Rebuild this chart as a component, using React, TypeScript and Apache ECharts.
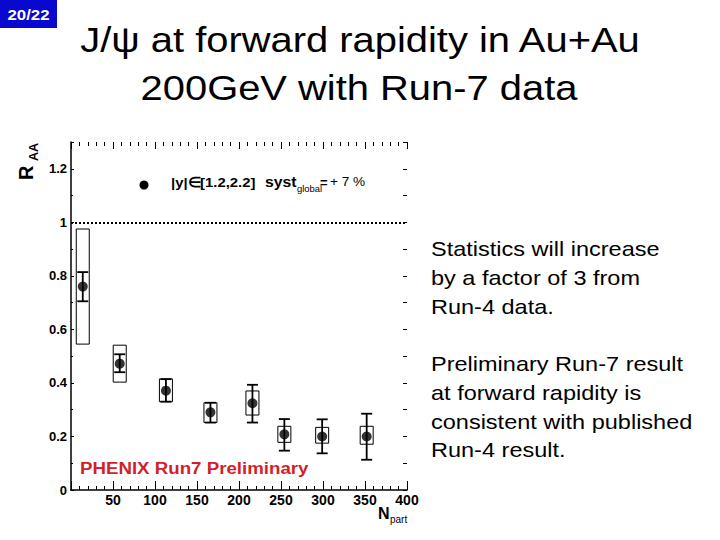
import React, { useEffect, useRef } from "react";
import * as echarts from "echarts";

const FONT = "'Liberation Sans', Arial, Helvetica, sans-serif";

// N_part values and R_AA measurements
const nPart = [14, 58, 113, 166, 216, 254, 299, 352];
const raa = [0.76, 0.472, 0.371, 0.29, 0.324, 0.208, 0.2, 0.2];
const statLow = [0.705, 0.44, 0.33, 0.252, 0.252, 0.147, 0.137, 0.113];
const statHigh = [0.814, 0.507, 0.414, 0.326, 0.393, 0.265, 0.264, 0.285];
const systLow = [0.545, 0.403, 0.33, 0.252, 0.28, 0.178, 0.175, 0.171];
const systHigh = [0.975, 0.541, 0.415, 0.326, 0.37, 0.238, 0.234, 0.238];

const titleLines = ["J/\u03c8 at forward rapidity in Au+Au", "200GeV with Run-7 data"];
const sideText = [
  "Statistics will increase",
  "by a factor of 3 from",
  "Run-4 data.",
  "",
  "Preliminary Run-7 result",
  "at forward rapidity is",
  "consistent with published",
  "Run-4 result.",
];

export default function App() {
  const ref = useRef<HTMLDivElement>(null);
  useEffect(() => {
    if (!ref.current) return;
    const chart = echarts.init(ref.current, undefined, { renderer: "svg" });

    const points = nPart.map((x, i) => [x, raa[i]]);
    const stat = nPart.map((x, i) => [x, statLow[i], statHigh[i]]);
    const syst = nPart.map((x, i) => [x, systLow[i], systHigh[i]]);

    const txt = (
      text: string,
      x: number,
      y: number,
      size: number,
      opts: any = {}
    ) => ({
      type: "text",
      x,
      y,
      scaleX: opts.scaleX ?? 1,
      rotation: opts.rotation ?? 0,
      silent: true,
      style: {
        text,
        fill: opts.fill ?? "#000",
        fontSize: size,
        fontWeight: opts.weight ?? "normal",
        fontFamily: FONT,
        textAlign: opts.align ?? "left",
        align: opts.align ?? "left",
        textVerticalAlign: opts.va ?? "middle",
        verticalAlign: opts.va ?? "middle",
      },
    });

    const sideBaseMid = [249.3, 278.3, 307, 335.5, 364.3, 392.7, 421.7, 450];
    const graphics: any[] = [
      { type: "rect", shape: { x: 0, y: 0, width: 57, height: 28 }, style: { fill: "#0808d0" }, silent: true },
      txt("20/22", 28.5, 14.5, 15, { fill: "#fff", weight: "bold", align: "center", scaleX: 1.12 }),
      txt(titleLines[0], 360, 39.8, 35, { align: "center", scaleX: 1.14 }),
      txt(titleLines[1], 359, 87.8, 35, { align: "center", scaleX: 1.14 }),
      ...sideText
        .map((t, i) => (t ? txt(t, 431, sideBaseMid[i], 21, { scaleX: 1.12 }) : null))
        .filter(Boolean),
      txt("PHENIX Run7 Preliminary", 80, 468, 17, { fill: "#d41f26", weight: "bold", scaleX: 1.1 }),
      // legend
      { type: "circle", shape: { cx: 144, cy: 185, r: 4.5 }, style: { fill: "#000" }, silent: true },
      txt("|y|\u2208[1.2,2.2]", 171, 182.2, 13.5, { weight: "bold", scaleX: 1.1 }),
      txt("syst", 265, 181.5, 15, { weight: "bold", scaleX: 1.05 }),
      txt("global", 297, 189.4, 9, { scaleX: 1.05 }),
      txt("=", 320, 182, 13, { weight: "bold" }),
      txt("+ 7 %", 330, 182, 13, { scaleX: 1.05 }),
      // axis titles
      txt("N", 378, 513.4, 16, { weight: "bold" }),
      txt("part", 390, 519.5, 10),
      txt("R", 36, 180, 20, { weight: "bold", rotation: Math.PI / 2, va: "bottom" }),
      txt("AA", 40, 161, 12.5, { weight: "bold", rotation: Math.PI / 2, va: "bottom" }),
    ];

    const black = { color: "#000" };

    chart.setOption({
      animation: false,
      backgroundColor: "#fff",
      grid: { left: 71, right: 313, top: 142, bottom: 50, containLabel: false },
      xAxis: [
        {
          type: "value",
          min: 0,
          max: 400,
          interval: 50,
          position: "bottom",
          axisLine: { show: true, onZero: false, lineStyle: { color: "#000", width: 1.5 } },
          axisTick: { show: true, inside: true, length: 9, lineStyle: black },
          minorTick: { show: true, splitNumber: 5, length: 4, lineStyle: black },
          axisLabel: {
            showMinLabel: false,
            color: "#000",
            fontWeight: "bold",
            fontSize: 14,
            fontFamily: FONT,
            margin: 3,
          },
          splitLine: { show: false },
        },
        {
          type: "value",
          min: 0,
          max: 400,
          interval: 50,
          position: "top",
          axisLine: { show: false, onZero: false },
          axisTick: { show: true, inside: true, length: 7, lineStyle: black },
          minorTick: { show: true, splitNumber: 5, length: 4, lineStyle: black },
          axisLabel: { show: false },
          splitLine: { show: false },
        },
      ],
      yAxis: [
        {
          type: "value",
          min: 0,
          max: 1.3,
          interval: 0.2,
          position: "left",
          axisLine: { show: true, onZero: false, lineStyle: { color: "#000", width: 1.5 } },
          axisTick: { show: true, inside: true, length: 3, lineStyle: black },
          minorTick: { show: true, splitNumber: 2, length: 2, lineStyle: black },
          axisLabel: {
            showMaxLabel: false,
            color: "#000",
            fontWeight: "bold",
            fontSize: 13,
            fontFamily: FONT,
            margin: 4,
          },
          splitLine: { show: false },
        },
        {
          type: "value",
          min: 0,
          max: 1.3,
          interval: 0.2,
          position: "right",
          axisLine: { show: false, onZero: false },
          axisTick: { show: true, inside: true, length: 4, lineStyle: black },
          minorTick: { show: true, splitNumber: 2, length: 4, lineStyle: black },
          axisLabel: { show: false },
          splitLine: { show: false },
        },
      ],
      series: [
        {
          type: "custom",
          xAxisIndex: 0,
          yAxisIndex: 0,
          data: syst,
          encode: { x: 0, y: [1, 2] },
          renderItem: (params: any, api: any) => {
            const x = api.value(0);
            const lo = api.coord([x, api.value(1)]);
            const hi = api.coord([x, api.value(2)]);
            return {
              type: "rect",
              shape: { x: lo[0] - 6.5, y: hi[1], width: 13, height: lo[1] - hi[1] },
              style: { fill: "none", stroke: "#000", lineWidth: 1 },
            };
          },
          silent: true,
        },
        {
          type: "custom",
          xAxisIndex: 0,
          yAxisIndex: 0,
          data: stat,
          encode: { x: 0, y: [1, 2] },
          renderItem: (params: any, api: any) => {
            const x = api.value(0);
            const lo = api.coord([x, api.value(1)]);
            const hi = api.coord([x, api.value(2)]);
            const st = { stroke: "#000", lineWidth: 1.8 };
            const w = 5.5;
            return {
              type: "group",
              children: [
                { type: "line", shape: { x1: lo[0], y1: lo[1], x2: hi[0], y2: hi[1] }, style: st },
                { type: "line", shape: { x1: lo[0] - w, y1: lo[1], x2: lo[0] + w, y2: lo[1] }, style: st },
                { type: "line", shape: { x1: hi[0] - w, y1: hi[1], x2: hi[0] + w, y2: hi[1] }, style: st },
              ],
            };
          },
          silent: true,
        },
        {
          type: "scatter",
          xAxisIndex: 0,
          yAxisIndex: 0,
          data: points,
          symbol: "circle",
          symbolSize: 10,
          itemStyle: { color: "#000" },
          silent: true,
          markLine: {
            silent: true,
            symbol: ["none", "none"],
            label: { show: false },
            lineStyle: { type: "dotted", color: "#000", width: 2 },
            data: [{ yAxis: 1 }],
          },
        },
      ],
      graphic: graphics,
    });

    return () => chart.dispose();
  }, []);

  return (
    <div
      ref={ref}
      style={{ position: "fixed", left: 0, top: 0, width: 720, height: 540, background: "#fff" }}
    />
  );
}
